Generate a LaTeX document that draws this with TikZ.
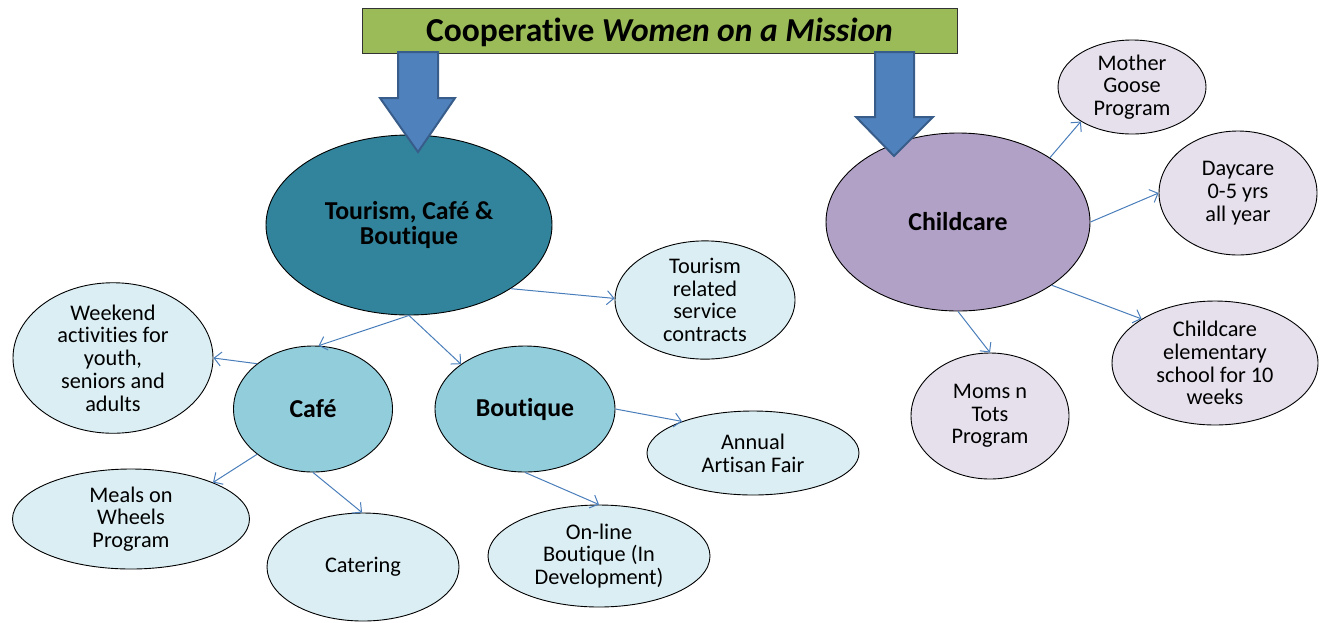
\documentclass[tikz,border=0pt]{standalone}
\usepackage{fontspec}
\setmainfont{Carlito}[Ligatures=NoCommon]
\usepackage{xcolor}
\usetikzlibrary{shapes.geometric,arrows.meta}

\definecolor{titlegreen}{HTML}{9BBB59}
\definecolor{arrowblue}{HTML}{4F81BD}
\definecolor{arrowedge}{HTML}{385D8A}
\definecolor{linkblue}{HTML}{4A7EBB}
\definecolor{tealmain}{HTML}{31849B}
\definecolor{tealmid}{HTML}{92CDDC}
\definecolor{teallight}{HTML}{DBEEF3}
\definecolor{lilacmain}{HTML}{B2A1C7}
\definecolor{lilaclight}{HTML}{E5E0EC}

\tikzset{
  bubble/.style={ellipse, draw=black, line width=0.9pt, inner sep=0pt, align=center,
    font=\fontsize{22.3}{22.7}\selectfont},
  hub/.style={bubble, font=\fontsize{25.8}{25.5}\selectfont\bfseries},
  link/.style={draw=linkblue, line width=1pt, -{Straight Barb[length=7pt,width=14pt]}},
  blockarrow/.style={fill=arrowblue, draw=arrowedge, line width=2pt, line join=miter}
}

\begin{document}
\begin{tikzpicture}[x=1pt, y=-1pt]
\useasboundingbox (0,0) rectangle (1321,622);

\node[draw=black!80, line width=0.9pt, fill=titlegreen, minimum width=595pt, minimum height=45pt,
  inner sep=0pt, text height=29pt, text depth=8pt, font=\fontsize{33.5}{36}\selectfont\bfseries]
  (title) at (659.5,30.5) {Cooperative \textit{Women on a Mission}};

% tourism side
\node[hub, fill=tealmain, minimum width=286pt, minimum height=180pt] (tourism) at (409,225) {Tourism, Café \&\\Boutique};
\node[hub, fill=tealmid, minimum width=159pt, minimum height=126pt] (cafe) at (313,409) {Café};
\node[hub, fill=tealmid, minimum width=180pt, minimum height=126pt] (boutique) at (525,409) {Boutique};

\node[bubble, fill=teallight, minimum width=200pt, minimum height=148pt] (weekend) at (113,358) {Weekend\\activities for\\youth,\\seniors and\\adults};
\node[bubble, fill=teallight, minimum width=237pt, minimum height=100pt] (meals) at (131,519) {Meals on\\Wheels\\Program};
\node[bubble, fill=teallight, minimum width=192pt, minimum height=108pt] (catering) at (363,567) {Catering};
\node[bubble, fill=teallight, minimum width=180pt, minimum height=110pt] (contracts) at (705,300) {Tourism\\related\\service\\contracts};
\node[bubble, fill=teallight, minimum width=212pt, minimum height=84pt] (fair) at (753,453) {Annual\\Artisan Fair};
\node[bubble, fill=teallight, minimum width=222pt, minimum height=102pt] (online) at (599,556) {On-line\\Boutique (In\\Development)};

% childcare side
\node[hub, fill=lilacmain, minimum width=264pt, minimum height=178pt] (childcare) at (958,222) {Childcare};
\node[bubble, fill=lilaclight, minimum width=148pt, minimum height=94pt] (goose) at (1132,87) {Mother\\Goose\\Program};
\node[bubble, fill=lilaclight, minimum width=158pt, minimum height=124pt] (daycare) at (1238,193) {Daycare\\0-5 yrs\\all year};
\node[bubble, fill=lilaclight, minimum width=206pt, minimum height=124pt] (school) at (1215,363) {Childcare\\elementary\\school for 10\\weeks};
\node[bubble, fill=lilaclight, minimum width=158pt, minimum height=126pt] (tots) at (990,416) {Moms n\\Tots\\Program};

% links
\draw[link] (tourism.-90) -- (cafe.85);
\draw[link] (tourism.-90) -- (boutique.145);
\draw[link] (tourism.-32) -- (contracts.179);
\draw[link] (cafe.141) -- (weekend.0);
\draw[link] (cafe.219) -- (meals.24);
\draw[link] (cafe.-90) -- (catering.91);
\draw[link] (boutique.0) -- (fair.156);
\draw[link] (boutique.-90) -- (online.90);
\draw[link] (childcare.35) -- (goose.214);
\draw[link] (childcare.0) -- (daycare.180);
\draw[link] (childcare.-34) -- (school.149);
\draw[link] (childcare.-90) -- (tots.90);

% big arrows out of the title
\draw[blockarrow] (398,52) -- (438,52) -- (438,98) -- (455,98) -- (418,152)
  -- (380,98) -- (398,98) -- cycle;
\draw[blockarrow] (875,52) -- (914,52) -- (914,117) -- (933,117) -- (894,156)
  -- (856,117) -- (875,117) -- cycle;
\end{tikzpicture}
\end{document}
